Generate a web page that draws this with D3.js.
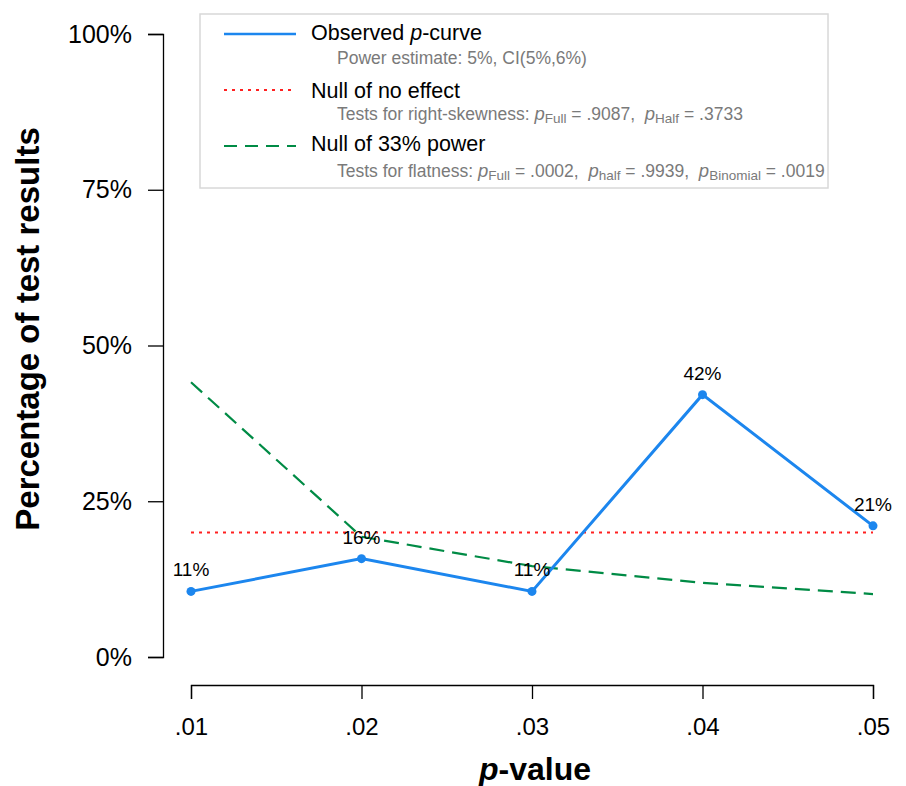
<!DOCTYPE html>
<html>
<head>
<meta charset="utf-8">
<script src="https://cdn.jsdelivr.net/npm/d3@7"></script>
<style>
  body { margin: 0; background: #fff; }
  svg { display: block; font-family: "Liberation Sans", Arial, Helvetica, sans-serif; }
</style>
</head>
<body>
<svg id="chart" width="906" height="786"></svg>
<script>
// p-value bins and the share of significant results in each
const pValues = [0.01, 0.02, 0.03, 0.04, 0.05];
const xTickLabels = [".01", ".02", ".03", ".04", ".05"];
const observed = [10.53, 15.79, 10.53, 42.11, 21.05];
const nullNoEffect = [20, 20, 20, 20, 20];
const null33 = [44.1, 19.3, 14.6, 11.9, 10.1];
const yTicks = [0, 25, 50, 75, 100];
const yTickLabels = ["0%", "25%", "50%", "75%", "100%"];

const svg = d3.select("#chart");

const x = d3.scaleLinear().domain([0.01, 0.05]).range([191, 873]);
const y = d3.scaleLinear().domain([0, 100]).range([657, 34]);

// y axis
const yAxis = d3.axisLeft(y).tickValues(yTicks)
  .tickFormat((d, i) => yTickLabels[i]).tickSizeOuter(0).tickSize(15).tickPadding(16);
const gy = svg.append("g").attr("transform", "translate(163,0)").call(yAxis);
gy.select(".domain").attr("stroke", "#000").attr("stroke-width", 1.3);
gy.selectAll(".tick line").attr("stroke", "#000").attr("stroke-width", 1.3);
gy.selectAll(".tick text").attr("font-size", 25).attr("fill", "#000")
  .attr("font-family", "Liberation Sans, Arial, sans-serif");

// x axis
const xAxis = d3.axisBottom(x).tickValues(pValues)
  .tickFormat((d, i) => xTickLabels[i]).tickSizeOuter(0).tickSize(14).tickPadding(19);
const gx = svg.append("g").attr("transform", "translate(0,685)").call(xAxis);
gx.select(".domain").attr("stroke", "#000").attr("stroke-width", 1.3);
gx.selectAll(".tick line").attr("stroke", "#000").attr("stroke-width", 1.3);
gx.selectAll(".tick text").attr("font-size", 24).attr("fill", "#000")
  .attr("font-family", "Liberation Sans, Arial, sans-serif");

// axis titles
svg.append("text")
  .attr("transform", "translate(39,329) rotate(-90)")
  .attr("text-anchor", "middle").attr("font-size", 33).attr("font-weight", "bold")
  .text("Percentage of test results");

const xt = svg.append("text").attr("x", 535).attr("y", 780)
  .attr("text-anchor", "middle").attr("font-size", 32).attr("font-weight", "bold");
xt.append("tspan").attr("font-style", "italic").text("p");
xt.append("tspan").text("-value");

const line = d3.line().x((d, i) => x(pValues[i])).y(d => y(d));

// reference curves
svg.append("path").datum(nullNoEffect).attr("d", line)
  .attr("fill", "none").attr("stroke", "#ff2020").attr("stroke-width", 2)
  .attr("stroke-dasharray", "3,5");
svg.append("path").datum(null33).attr("d", line)
  .attr("fill", "none").attr("stroke", "#008B45").attr("stroke-width", 2.2)
  .attr("stroke-dasharray", "15,8");

// observed curve
svg.append("path").datum(observed).attr("d", line)
  .attr("fill", "none").attr("stroke", "#1C86EE").attr("stroke-width", 3);
svg.selectAll("circle.obs").data(observed).enter().append("circle")
  .attr("class", "obs")
  .attr("cx", (d, i) => x(pValues[i])).attr("cy", d => y(d)).attr("r", 4.5)
  .attr("fill", "#1C86EE");
svg.selectAll("text.obs").data(observed).enter().append("text")
  .attr("class", "obs")
  .attr("x", (d, i) => x(pValues[i])).attr("y", d => y(d) - 15)
  .attr("text-anchor", "middle").attr("font-size", 19).attr("fill", "#000")
  .text(d => Math.round(d) + "%");

// legend
const lg = svg.append("g");
lg.append("rect").attr("x", 200).attr("y", 14).attr("width", 628).attr("height", 174)
  .attr("fill", "#fff").attr("stroke", "#d8d8d8").attr("stroke-width", 1.5);

const legendRows = [
  { y: 34, color: "#1C86EE", width: 2.5, dash: null },
  { y: 90, color: "#ff2020", width: 2, dash: "3,5" },
  { y: 146, color: "#008B45", width: 2.2, dash: "13,8" }
];
legendRows.forEach(r => {
  lg.append("line").attr("x1", 224).attr("x2", 296).attr("y1", r.y).attr("y2", r.y)
    .attr("stroke", r.color).attr("stroke-width", r.width)
    .attr("stroke-dasharray", r.dash);
});

function mainText(yy, parts) {
  const t = lg.append("text").attr("x", 311).attr("y", yy).attr("font-size", 21.5).attr("fill", "#000");
  parts.forEach(p => t.append("tspan").attr("font-style", p.i ? "italic" : null).text(p.t));
}
mainText(40, [{ t: "Observed " }, { t: "p", i: true }, { t: "-curve" }]);
mainText(98, [{ t: "Null of no effect" }]);
mainText(151, [{ t: "Null of 33% power" }]);

function subText(yy, parts) {
  const t = lg.append("text").attr("x", 337).attr("y", yy).attr("font-size", 17.5).attr("fill", "#7a7a7a")
    .attr("xml:space", "preserve");
  parts.forEach(p => {
    const s = t.append("tspan").text(p.t);
    if (p.i) s.attr("font-style", "italic").attr("font-size", 18.5);
    if (p.sub) s.attr("font-size", 13.5).attr("dy", 3);
    if (p.up) s.attr("dy", -3);
  });
}
subText(64, [{ t: "Power estimate: 5%, CI(5%,6%)" }]);
subText(120, [{ t: "Tests for right-skewness: " }, { t: "p", i: true }, { t: "Full", sub: true },
  { t: " = .9087,  ", up: true }, { t: "p", i: true }, { t: "Half", sub: true }, { t: " = .3733", up: true }]);
subText(177, [{ t: "Tests for flatness: " }, { t: "p", i: true }, { t: "Full", sub: true },
  { t: " = .0002,  ", up: true }, { t: "p", i: true }, { t: "half", sub: true }, { t: " = .9939,  ", up: true },
  { t: "p", i: true }, { t: "Binomial", sub: true }, { t: " = .0019", up: true }]);
</script>
</body>
</html>
